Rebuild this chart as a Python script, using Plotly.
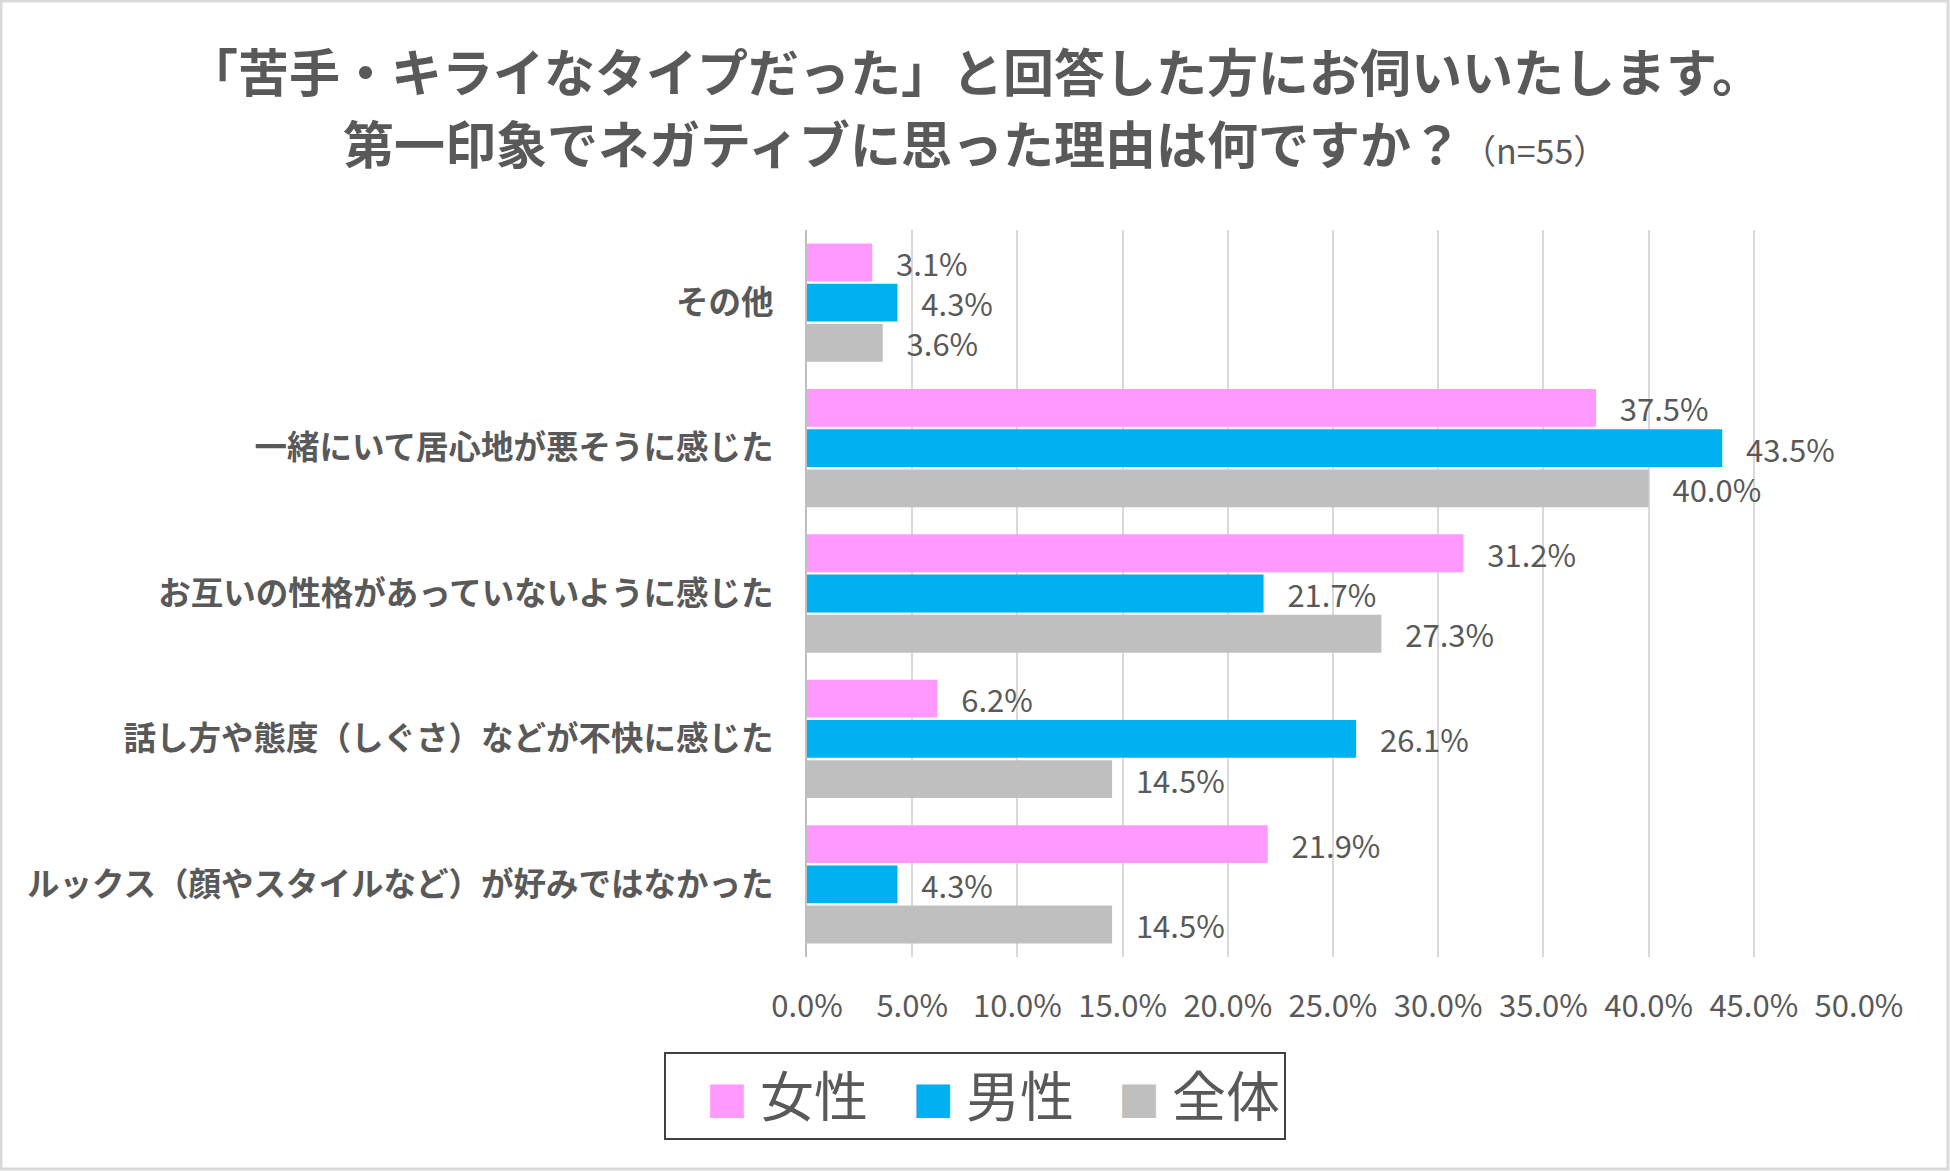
import plotly.graph_objects as go

# data (percent)
categories = [
    "その他",
    "一緒にいて居心地が悪そうに感じた",
    "お互いの性格があっていないように感じた",
    "話し方や態度（しぐさ）などが不快に感じた",
    "ルックス（顔やスタイルなど）が好みではなかった",
]
female = [3.1, 37.5, 31.2, 6.2, 21.9]
male = [4.3, 43.5, 21.7, 26.1, 4.3]
total = [3.6, 40.0, 27.3, 14.5, 14.5]

series_names = ["女性", "男性", "全体"]
colors = ["#FF99FF", "#00B0F0", "#BFBFBF"]

x_ticks = [0, 5, 10, 15, 20, 25, 30, 35, 40, 45, 50]

title_lines = [
    "「苦手・キライなタイプだった」と回答した方にお伺いいたします。",
    "第一印象でネガティブに思った理由は何ですか？"
    "<span style='font-size:34px;font-weight:normal'>（n=55）</span>",
]

TEXT = "#595959"
JP = "Noto Sans CJK JP"
NUM = "Liberation Sans Narrow, " + JP

W, H = 1950, 1171
ML, MR, MT, MB = 807, 91, 230, 214
PW, PH = W - ML - MR, H - MT - MB

fig = go.Figure()
for name, vals, col in zip(series_names, [female, male, total], colors):
    fig.add_trace(go.Bar(
        y=categories,
        x=vals,
        name=name,
        orientation="h",
        marker=dict(color=col, line=dict(width=0)),
        text=vals,
        texttemplate="\u00a0\u00a0\u00a0%{x:.1f}%",
        textposition="outside",
        constraintext="none",
        cliponaxis=False,
        textfont=dict(family=NUM, size=31, color=TEXT),
        showlegend=False,
    ))

# legend entries: large coloured squares like the original
for name, col in zip(series_names, colors):
    fig.add_trace(go.Scatter(
        x=[None], y=[None],
        mode="markers",
        marker=dict(color="rgba(0,0,0,0)", size=1),
        name=f"<span style='color:{col};font-size:42px'>■</span> {name}",
        hoverinfo="skip",
    ))

# two-line title as annotations so the line spacing matches
title_y = [70, 142]
annotations = [
    dict(
        text=txt,
        xref="paper", yref="paper",
        x=(975 - ML) / PW, xanchor="center",
        y=(PH - (ty - MT)) / PH, yanchor="middle",
        showarrow=False,
        font=dict(family=JP, size=51, color=TEXT, weight="bold"),
    )
    for txt, ty in zip(title_lines, title_y)
]

fig.update_layout(
    width=W,
    height=H,
    margin=dict(l=ML, r=MR, t=MT, b=MB),
    paper_bgcolor="white",
    plot_bgcolor="white",
    barmode="group",
    bargap=0.17,
    bargroupgap=0.06,
    annotations=annotations,
    legend=dict(
        orientation="h",
        x=(975 - ML) / PW,
        xanchor="center",
        y=(PH - (1052 - MT)) / PH,
        yanchor="top",
        font=dict(family=JP, size=54, color=TEXT),
        bordercolor="#404040",
        borderwidth=2,
        entrywidth=161,
        traceorder="normal",
        itemclick=False,
    ),
    shapes=[dict(
        type="rect",
        xref="paper", yref="paper",
        x0=(1 - ML) / PW, x1=(W - 2 - ML) / PW,
        y0=(PH - (H - 2 - MT)) / PH, y1=(PH - (1 - MT)) / PH,
        line=dict(color="#D9D9D9", width=3),
        layer="below",
    )],
)

fig.update_xaxes(
    range=[0, 50],
    tickvals=x_ticks,
    ticktext=[f"{v:.1f}%" for v in x_ticks],
    showgrid=True,
    gridcolor="#D9D9D9",
    gridwidth=2,
    zeroline=False,
    showline=False,
    ticks="",
    ticklabelstandoff=28,
    tickfont=dict(family=NUM, size=31, color=TEXT),
)

fig.update_yaxes(
    autorange="reversed",
    showgrid=False,
    showline=True,
    linecolor="#BFBFBF",
    linewidth=2,
    ticks="",
    ticklabelstandoff=25,
    tickfont=dict(family=JP, size=32.5, color=TEXT, weight="bold"),
)

fig.write_html(
    "out.html",
    config={"displayModeBar": False},
    post_script="document.body.style.margin='0';",
)
